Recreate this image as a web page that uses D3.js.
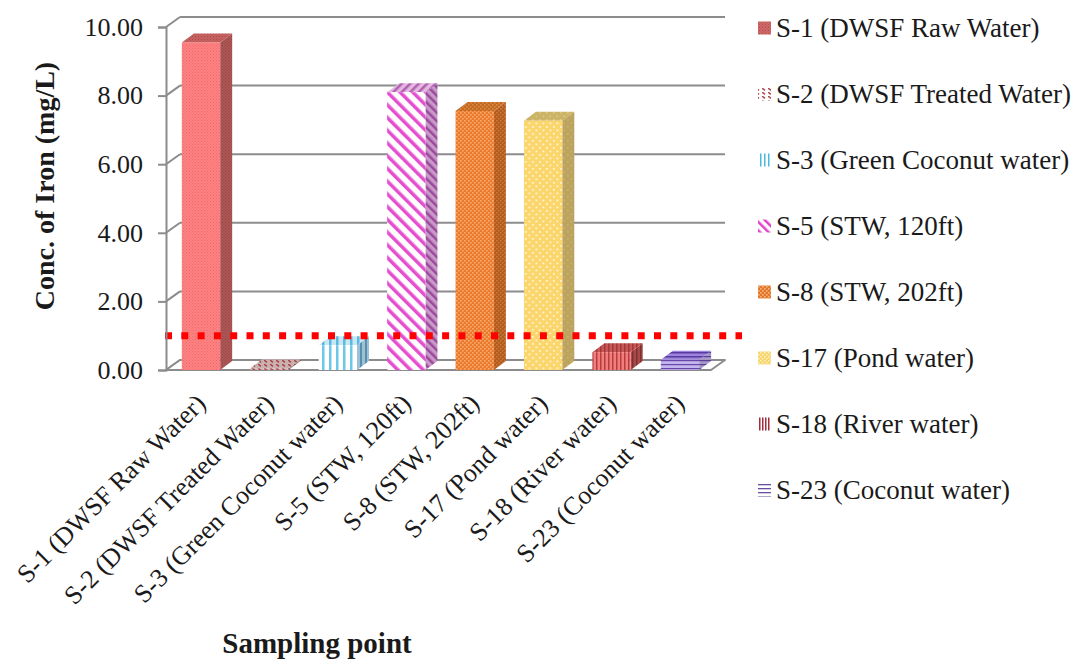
<!DOCTYPE html>
<html>
<head>
<meta charset="utf-8">
<script src="https://cdn.jsdelivr.net/npm/d3@7/dist/d3.min.js"></script>
<style>
  html, body { margin: 0; padding: 0; background: #ffffff; }
  svg { display: block; }
  text { font-family: "Liberation Serif", "Times New Roman", serif; fill: #1a1a1a; }
</style>
</head>
<body>
<svg id="chart" width="1078" height="662"></svg>
<script>
// Sampling points and measured iron concentration (mg/L)
const categories = [
  "S-1 (DWSF Raw Water)",
  "S-2 (DWSF Treated Water)",
  "S-3 (Green Coconut water)",
  "S-5 (STW, 120ft)",
  "S-8 (STW, 202ft)",
  "S-17 (Pond water)",
  "S-18 (River water)",
  "S-23 (Coconut water)"
];
const ironValues = [9.55, 0.05, 0.72, 8.10, 7.55, 7.27, 0.52, 0.30];
const yTickValues = [0, 2, 4, 6, 8, 10];
const standardLimit = 1.0;   // guideline value drawn as the dotted red line

const yTitle = "Conc. of Iron (mg/L)";
const xTitle = "Sampling point";

// Fill styles per sampling point (front / side / top faces)
const barStyles = [
  { front: "url(#p1f)", side: "url(#p1s)", top: "url(#p1t)", legend: "url(#p1l)" },
  { front: "url(#p2f)", side: "url(#p2s)", top: "url(#p2t)", legend: "url(#p2l)" },
  { front: "url(#p3f)", side: "url(#p3s)", top: "url(#p3t)", legend: "url(#p3l)" },
  { front: "url(#p5f)", side: "url(#p5s)", top: "url(#p5t)", legend: "url(#p5l)" },
  { front: "url(#p8f)", side: "url(#p8s)", top: "url(#p8t)", legend: "url(#p8l)" },
  { front: "url(#p17f)", side: "url(#p17s)", top: "url(#p17t)", legend: "url(#p17l)" },
  { front: "url(#p18f)", side: "url(#p18s)", top: "url(#p18t)", legend: "url(#p18l)" },
  { front: "url(#p23f)", side: "url(#p23s)", top: "url(#p23t)", legend: "url(#p23l)" }
];

const svg = d3.select("#chart");
const defs = svg.append("defs");

// ---- pattern helpers ----
function dotPattern(id, bg, dot, size, r) {
  const p = defs.append("pattern").attr("id", id).attr("patternUnits", "userSpaceOnUse")
    .attr("width", size).attr("height", size);
  p.append("rect").attr("width", size).attr("height", size).attr("fill", bg);
  p.append("rect").attr("x", 0).attr("y", 0).attr("width", r).attr("height", r).attr("fill", dot);
  p.append("rect").attr("x", size / 2).attr("y", size / 2).attr("width", r).attr("height", r).attr("fill", dot);
}
function vStripes(id, bg, fg, size, w) {
  const p = defs.append("pattern").attr("id", id).attr("patternUnits", "userSpaceOnUse")
    .attr("width", size).attr("height", size);
  p.append("rect").attr("width", size).attr("height", size).attr("fill", bg);
  p.append("rect").attr("x", 0).attr("y", 0).attr("width", w).attr("height", size).attr("fill", fg);
}
function hStripes(id, bg, fg, size, w) {
  const p = defs.append("pattern").attr("id", id).attr("patternUnits", "userSpaceOnUse")
    .attr("width", size).attr("height", size);
  p.append("rect").attr("width", size).attr("height", size).attr("fill", bg);
  p.append("rect").attr("x", 0).attr("y", 0).attr("width", size).attr("height", w).attr("fill", fg);
}
function dStripes(id, bg, fg, size, w, angle) {
  const p = defs.append("pattern").attr("id", id).attr("patternUnits", "userSpaceOnUse")
    .attr("width", size).attr("height", size).attr("patternTransform", `rotate(${angle})`);
  p.append("rect").attr("width", size).attr("height", size).attr("fill", bg);
  p.append("rect").attr("x", 0).attr("y", 0).attr("width", w).attr("height", size).attr("fill", fg);
}
function dashPattern(id, bg, fg) {
  const p = defs.append("pattern").attr("id", id).attr("patternUnits", "userSpaceOnUse")
    .attr("width", 6).attr("height", 4);
  p.append("rect").attr("width", 6).attr("height", 4).attr("fill", bg);
  p.append("line").attr("x1", 0).attr("y1", 0).attr("x2", 3).attr("y2", 2.4)
    .attr("stroke", fg).attr("stroke-width", 1.5);
}

// S-1
dotPattern("p1f", "#ff8282", "#ec6c6c", 3, 1);
dotPattern("p1s", "#ac5656", "#984646", 3, 1);
dotPattern("p1t", "#c86262", "#a84c4c", 3, 1);
dotPattern("p1l", "#d06a6a", "#b04848", 3, 1);
// S-2
dashPattern("p2f", "#cdb2b2", "#a84848");
dashPattern("p2s", "#a89090", "#844040");
dashPattern("p2t", "#cbb0b0", "#a84444");
dashPattern("p2l", "#ffffff", "#b04a4a");
// S-3
vStripes("p3f", "#ffffff", "#6cc8ea", 7, 2.5);
vStripes("p3s", "#9cc0d4", "#5c8eae", 5, 2);
vStripes("p3t", "#c6e8f4", "#5cb8dc", 7, 2.5);
vStripes("p3l", "#ffffff", "#4cb8e0", 4, 1.5);
// S-5
dStripes("p5f", "#ffffff", "#e64ed0", 9, 3.5, -45);
dStripes("p5s", "#c898c8", "#9a4a9a", 6, 2.5, -45);
dStripes("p5t", "#e6b8e0", "#b060b0", 6, 2.5, 45);
dStripes("p5l", "#ffffff", "#e040c8", 6, 2.5, -45);
// S-8
dotPattern("p8f", "#ec7a2c", "#f6aa6e", 4, 1.6);
dotPattern("p8s", "#b45c1e", "#c8773a", 4, 1.6);
dotPattern("p8t", "#c4691f", "#d88a46", 4, 1.6);
dotPattern("p8l", "#e4762a", "#f6b680", 4, 1.6);
// S-17
dotPattern("p17f", "#fad66c", "#fff3cc", 7, 1.8);
dotPattern("p17s", "#bca45e", "#c8b272", 7, 1.6);
dotPattern("p17t", "#ccb466", "#dcc88a", 7, 1.6);
dotPattern("p17l", "#f6d66e", "#fff0c0", 4, 1.5);
// S-18
vStripes("p18f", "#f07e7e", "#b83c3c", 4, 1.5);
vStripes("p18s", "#a84a4a", "#803030", 4, 1.5);
vStripes("p18t", "#c85858", "#a03838", 4, 1.5);
vStripes("p18l", "#ffffff", "#a02c3c", 3, 1.5);
// S-23
hStripes("p23f", "#c4b6ee", "#6846a8", 4, 1.2);
hStripes("p23s", "#a898c8", "#584098", 4, 1.2);
hStripes("p23t", "#9c84dc", "#5a3aa0", 4, 1.5);
hStripes("p23l", "#ffffff", "#6a4ea0", 4, 1.3);

// ---- scales ----
const plotLeft = 166, plotRight = 711;
const depthWall = { dx: 14, dy: -10 };
const depthBar = { dx: 12, dy: -9 };

const y = d3.scaleLinear().domain([0, 10]).range([370, 27]);
const x = d3.scaleBand().domain(categories).range([166.8, 714.2]).padding(0);
const barWidth = x.bandwidth() * 0.56;

const gridColor = "#8c8c8c";

// ---- back wall gridlines & side wall connectors ----
const grid = svg.append("g");
yTickValues.forEach(v => {
  grid.append("line")
    .attr("x1", plotLeft + depthWall.dx).attr("x2", plotRight + depthWall.dx)
    .attr("y1", y(v) + depthWall.dy).attr("y2", y(v) + depthWall.dy)
    .attr("stroke", gridColor).attr("stroke-width", 2);
  grid.append("line")
    .attr("x1", plotLeft).attr("y1", y(v))
    .attr("x2", plotLeft + depthWall.dx).attr("y2", y(v) + depthWall.dy)
    .attr("stroke", gridColor).attr("stroke-width", 2);
});

// floor
const floorPts = [
  [plotLeft, y(0)], [plotRight, y(0)],
  [plotRight + depthWall.dx, y(0) + depthWall.dy], [plotLeft + depthWall.dx, y(0) + depthWall.dy]
];
grid.append("polygon")
  .attr("points", floorPts.map(p => p.join(",")).join(" "))
  .attr("fill", "#ffffff").attr("stroke", gridColor).attr("stroke-width", 2)
  .attr("stroke-linejoin", "round");

// ---- 3D bars ----
const bars = svg.append("g");
categories.forEach((c, i) => {
  const v = ironValues[i];
  const x0 = x(c) + (x.bandwidth() - barWidth) / 2;
  const x1 = x0 + barWidth;
  const yt = y(v), yb = y(0);
  const dx = depthBar.dx, dy = depthBar.dy;
  const st = barStyles[i];
  const g = bars.append("g");
  // side face
  g.append("polygon")
    .attr("points", [[x1, yt], [x1 + dx, yt + dy], [x1 + dx, yb + dy], [x1, yb]].map(p => p.join(",")).join(" "))
    .attr("fill", st.side);
  // top face
  g.append("polygon")
    .attr("points", [[x0, yt], [x1, yt], [x1 + dx, yt + dy], [x0 + dx, yt + dy]].map(p => p.join(",")).join(" "))
    .attr("fill", st.top);
  // front face
  g.append("rect")
    .attr("x", x0).attr("y", yt).attr("width", barWidth).attr("height", Math.max(yb - yt, 0.8))
    .attr("fill", st.front);
});

// ---- guideline (dotted red) ----
svg.append("line")
  .attr("x1", 165).attr("x2", 742)
  .attr("y1", y(standardLimit)).attr("y2", y(standardLimit))
  .attr("stroke", "#ff0000").attr("stroke-width", 7)
  .attr("stroke-dasharray", "7 9.3");

// ---- value axis ----
const yAxis = d3.axisLeft(y).tickValues(yTickValues).tickFormat(d3.format(".2f"))
  .tickSize(8).tickPadding(15);
const ya = svg.append("g").attr("transform", `translate(${plotLeft},0)`).call(yAxis);
ya.select(".domain").attr("stroke", gridColor).attr("stroke-width", 2);
ya.selectAll(".tick line").attr("stroke", gridColor).attr("stroke-width", 2);
ya.selectAll(".tick text")
  .attr("font-family", '"Liberation Serif", "Times New Roman", serif')
  .attr("font-size", 26).attr("fill", "#1a1a1a");

// ---- category labels ----
const xl = svg.append("g");
categories.forEach(c => {
  const cx = x(c) + x.bandwidth() / 2;
  xl.append("text")
    .attr("transform", `translate(${cx + 6},${405}) rotate(-45)`)
    .attr("text-anchor", "end")
    .attr("font-size", 26)
    .text(c);
});

// ---- axis titles ----
svg.append("text")
  .attr("transform", "translate(54,186) rotate(-90)")
  .attr("text-anchor", "middle")
  .attr("font-size", 28).attr("font-weight", "bold")
  .text(yTitle);

svg.append("text")
  .attr("x", 317).attr("y", 653)
  .attr("text-anchor", "middle")
  .attr("font-size", 29).attr("font-weight", "bold")
  .text(xTitle);

// ---- legend ----
const legend = svg.append("g");
categories.forEach((c, i) => {
  const cy = 28 + i * 66;
  legend.append("rect")
    .attr("x", 758).attr("y", cy - 6.5).attr("width", 13).attr("height", 13)
    .attr("fill", barStyles[i].legend);
  legend.append("text")
    .attr("x", 776).attr("y", cy).attr("dy", "0.35em")
    .attr("font-size", 27)
    .text(c);
});
</script>
</body>
</html>
